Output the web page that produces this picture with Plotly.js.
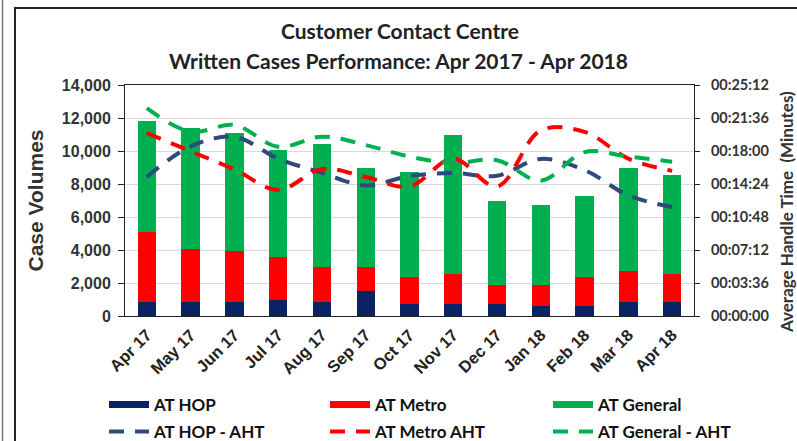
<!DOCTYPE html>
<html><head><meta charset="utf-8">
<script src="https://cdn.plot.ly/plotly-3.0.1.min.js"></script>
<style>html,body{margin:0;padding:0;background:#fff}#chart{width:797px;height:441px}</style>
</head><body><div id="chart"></div>
<script>
const months = ['Apr 17','May 17','Jun 17','Jul 17','Aug 17','Sep 17','Oct 17','Nov 17','Dec 17','Jan 18','Feb 18','Mar 18','Apr 18'];
const hop     = [850, 830, 830, 970, 830, 1530, 710, 710, 710, 610, 610, 830, 830];
const metro   = [4250, 3220, 3120, 2630, 2170, 1470, 1640, 1840, 1170, 1270, 1740, 1870, 1720];
const general = [6700, 7350, 7150, 6450, 7400, 6000, 6400, 8450, 5070, 4820, 4950, 6300, 6000];
// Average handle time in seconds
const hopAHT     = [910, 1110, 1172, 1030, 937, 855, 916, 936, 918, 1028, 955, 790, 712];
const metroAHT   = [1198, 1078, 960, 825, 962, 910, 848, 1030, 848, 1215, 1205, 1030, 950];
const generalAHT = [1360, 1206, 1250, 1108, 1174, 1119, 1043, 1001, 1020, 886, 1073, 1043, 1010];
const ahtTickVals = [0, 216, 432, 648, 864, 1080, 1296, 1512];
const ahtTickText = ['00:00:00','00:03:36','00:07:12','00:10:48','00:14:24','00:18:00','00:21:36','00:25:12'];

const C_NAVY = '#0b2365', C_RED = '#ff0000', C_GREEN = '#00b050', C_SLATE = '#2d4a7c';
const dashStyle = '15px,11px';

const traces = [
  {type:'bar', name:'AT HOP', x:months, y:hop, marker:{color:C_NAVY}, showlegend:false},
  {type:'bar', name:'AT Metro', x:months, y:metro, marker:{color:C_RED}, showlegend:false},
  {type:'bar', name:'AT General', x:months, y:general, marker:{color:C_GREEN}, showlegend:false},
  {type:'scatter', mode:'lines', name:'AT HOP', x:[null], y:[null], line:{color:C_NAVY, width:7}, legend:'legend'},
  {type:'scatter', mode:'lines', name:'AT Metro', x:[null], y:[null], line:{color:C_RED, width:7}, legend:'legend2'},
  {type:'scatter', mode:'lines', name:'AT General', x:[null], y:[null], line:{color:C_GREEN, width:7}, legend:'legend3'},
  {type:'scatter', mode:'lines', name:'AT HOP - AHT', x:months, y:hopAHT, yaxis:'y2', legend:'legend4', line:{color:C_SLATE, width:4, dash:dashStyle, shape:'spline', smoothing:1}},
  {type:'scatter', mode:'lines', name:'AT Metro AHT', x:months, y:metroAHT, yaxis:'y2', legend:'legend5', line:{color:C_RED, width:4, dash:dashStyle, shape:'spline', smoothing:1}},
  {type:'scatter', mode:'lines', name:'AT General - AHT', x:months, y:generalAHT, yaxis:'y2', legend:'legend6', line:{color:C_GREEN, width:4, dash:dashStyle, shape:'spline', smoothing:1}}
];

const W = 797, H = 441;
const L = 125, R = 694, T = 85, B = 316;
const px = v => (v - L) / (R - L);
const py = v => (B - v) / (B - T);
const cx = v => v / W;
const cy = v => (H - v) / H;
const legendAt = (left, top) => ({orientation:'h', xref:'container', yref:'container', x:cx(left), y:cy(top),
  xanchor:'left', yanchor:'top', itemwidth:40,
  font:{size:17, family:'Lato', weight:'bold', color:'#111'}, bgcolor:'rgba(0,0,0,0)'});

const layout = {
  width:W, height:H,
  margin:{l:L, r:W-R, t:T, b:H-B, pad:0},
  paper_bgcolor:'#fff', plot_bgcolor:'#fff',
  barmode:'stack', bargap:0.58,
  font:{family:'Liberation Sans, Arial, sans-serif', color:'#222'},
  xaxis:{type:'category', tickangle:-45, tickfont:{size:16.5, family:'Liberation Sans', weight:'bold', color:'#222'},
    ticklabelstandoff:2,
    showline:true, linecolor:'#222', linewidth:1, mirror:true, ticks:'', showgrid:false, automargin:false},
  yaxis:{range:[0,14000], tickvals:[0,2000,4000,6000,8000,10000,12000,14000], tickformat:',d',
    tickfont:{size:16, family:'Liberation Sans', weight:'bold', color:'#333'}, ticklabelstandoff:4,
    showline:true, linecolor:'#222', linewidth:1, ticks:'outside', ticklen:6, tickcolor:'#222',
    gridcolor:'#d9d9d9', gridwidth:1, zeroline:false, automargin:false,
    title:{text:'Case Volumes', font:{size:21, family:'Liberation Sans', weight:'bold', color:'#333'}, standoff:12}},
  yaxis2:{overlaying:'y', side:'right', range:[0,1512], tickvals:ahtTickVals, ticktext:ahtTickText,
    tickfont:{size:14.5, family:'Lato', weight:'bold', color:'#333'}, ticklabelstandoff:8,
    showline:true, linecolor:'#222', linewidth:1, ticks:'outside', ticklen:5, tickcolor:'#222',
    showgrid:false, zeroline:false, automargin:false},
  legend:legendAt(104, 387),
  legend2:legendAt(325, 387),
  legend3:legendAt(548, 387),
  legend4:legendAt(104, 414),
  legend5:legendAt(325, 414),
  legend6:legendAt(548, 414),
  annotations:[
    {text:'Customer Contact Centre', xref:'paper', yref:'paper', x:px(400), y:py(31), xanchor:'center', yanchor:'middle', showarrow:false,
     font:{size:21, family:'Lato', weight:'bold', color:'#222'}},
    {text:'Written Cases Performance: Apr 2017 - Apr 2018', xref:'paper', yref:'paper', x:px(398), y:py(61), xanchor:'center', yanchor:'middle', showarrow:false,
     font:{size:21, family:'Lato', weight:'bold', color:'#222'}},
    {text:'Average Handle Time  (Minutes)', xref:'paper', yref:'paper', x:px(786), y:py(212), xanchor:'center', yanchor:'middle', textangle:-90, showarrow:false,
     font:{size:17, family:'Lato', weight:'bold', color:'#333'}}
  ],
  shapes:[
    {type:'rect', xref:'paper', yref:'paper', x0:px(15), x1:px(840), y0:py(480), y1:py(8), line:{color:'#222', width:2}, layer:'below'},
    {type:'line', xref:'paper', yref:'paper', x0:px(2.5), x1:px(2.5), y0:py(0), y1:py(441), line:{color:'#777', width:1.5}}
  ]
};

Plotly.newPlot('chart', traces, layout, {displayModeBar:false, staticPlot:true});
</script>
</body></html>
